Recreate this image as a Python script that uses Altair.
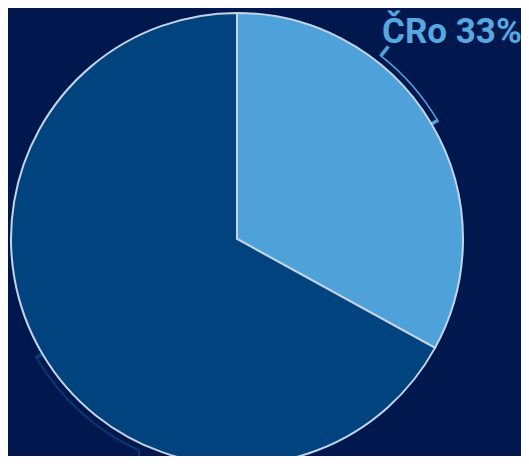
import math
import altair as alt
import pandas as pd

# ---- data ----
labels = ["ČRo", "Ostatní"]
values = [33, 67]
colors = ["#4ea1d9", "#00437f"]
label_texts = ["ČRo 33%"]
# where each callout line reaches the arc (percent of full circle)
bracket_start = [10.6, 56.9]

# ---- layout ----
W, H = 513, 448
CX, CY = 229, 231
R = 226
RB = 233

mids = []
acc = 0
for v in values:
    mids.append(acc + v / 2)
    acc += v

pie_df = pd.DataFrame({"label": labels, "value": values, "order": list(range(len(labels)))})
br_df = pd.DataFrame({"label": labels, "start": bracket_start, "end": mids})
tick_df = pd.DataFrame({"label": labels, "t0": [m - 0.12 for m in mids], "t1": [m + 0.12 for m in mids]})
out_df = pd.DataFrame({"label": [labels[0]], "t0": [bracket_start[0] - 0.12], "t1": [bracket_start[0] + 0.12]})
txt_df = pd.DataFrame({"label": [labels[0]], "text": label_texts})

theta_scale = alt.Scale(domain=[0, 100])
color_scale = alt.Scale(domain=labels, range=colors)
col = alt.Color("label:N", scale=color_scale, legend=None)

pie = alt.Chart(pie_df).mark_arc(radius=R, stroke="#c3d4e6", strokeWidth=2).encode(
    theta=alt.Theta("value:Q", stack=True, scale=theta_scale),
    order=alt.Order("order:Q"),
    color=col,
    x=alt.value(CX), y=alt.value(CY),
)

br = alt.Chart(br_df).mark_arc(radius=RB + 0.8, radius2=RB - 0.8).encode(
    theta=alt.Theta("start:Q", stack=None, scale=theta_scale),
    theta2=alt.Theta2("end:Q"),
    color=col,
    x=alt.value(CX), y=alt.value(CY),
)

ticks = alt.Chart(tick_df).mark_arc(radius=RB + 0.8, radius2=R).encode(
    theta=alt.Theta("t0:Q", stack=None, scale=theta_scale),
    theta2=alt.Theta2("t1:Q"),
    color=col,
    x=alt.value(CX), y=alt.value(CY),
)

outtick = alt.Chart(out_df).mark_arc(radius=RB + 12, radius2=RB - 0.8).encode(
    theta=alt.Theta("t0:Q", stack=None, scale=theta_scale),
    theta2=alt.Theta2("t1:Q"),
    color=col,
    x=alt.value(CX), y=alt.value(CY),
)

ang = 2 * math.pi * bracket_start[1] / 100
rx = CX + RB * math.sin(ang)
ry = CY - RB * math.cos(ang)
rule = alt.Chart(pd.DataFrame({"label": [labels[1]]})).mark_rule(strokeWidth=1.6).encode(
    x=alt.value(rx), y=alt.value(ry), y2=alt.value(H + 20),
    color=col,
)

txt = alt.Chart(txt_df).mark_text(
    align="left", baseline="alphabetic", font="Roboto", fontWeight="bold",
    fontSize=35, color="#57a8e0",
).encode(text="text:N", x=alt.value(374), y=alt.value(35))

chart = alt.layer(br, ticks, outtick, rule, pie, txt).properties(
    width=W, height=H, padding=0, background="#00184e",
    autosize=alt.AutoSizeParams(type="none"),
).configure_view(stroke=None)

chart.save("out.html", embed_options={"renderer": "svg", "actions": False})
